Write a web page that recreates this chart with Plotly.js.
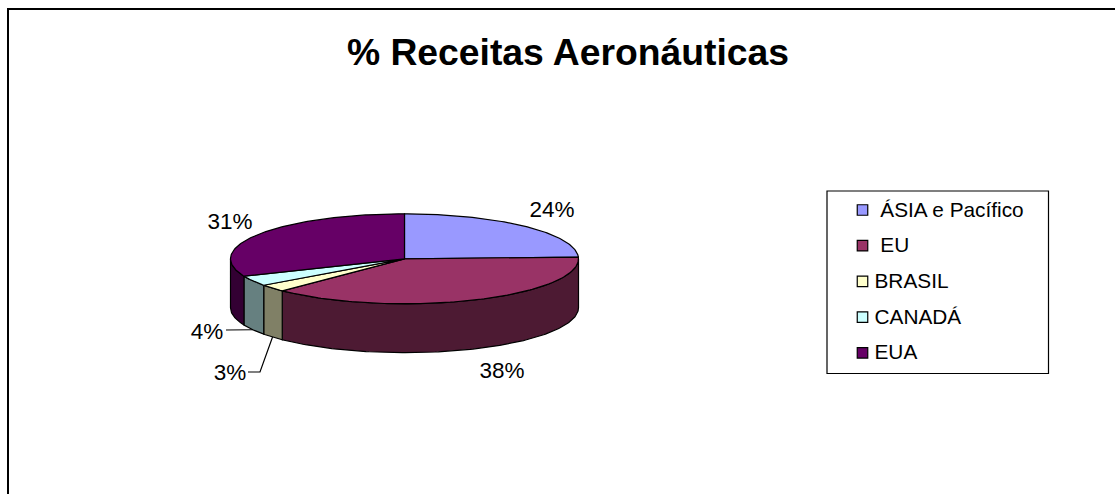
<!DOCTYPE html>
<html>
<head>
<meta charset="utf-8">
<script src="https://cdn.plot.ly/plotly-3.0.1.min.js"></script>
<style>html,body{margin:0;padding:0;background:#fff;overflow:hidden}#chart{width:1115px;height:494px}</style>
</head>
<body>
<div id="chart"></div>
<script>
// Data
const categories = ['ÁSIA e Pacífico', 'EU', 'BRASIL', 'CANADÁ', 'EUA'];
const legendLabels = ['\u00a0ÁSIA e Pacífico', '\u00a0EU', 'BRASIL', 'CANADÁ', 'EUA'];
const shares = [24.4, 38.0, 2.6, 3.7, 31.3];
const topColors = ['#9999FF', '#993366', '#FFFFCC', '#CCFFFF', '#660066'];
const sideColors = ['#4D4D80', '#4D1A33', '#808066', '#668080', '#330033'];

// Geometry of the drawing
const CX = 404.5, CY = 258.8, RX = 174, RY = 45, DEPTH = 48.9;
const FONT = 'Liberation Sans, Arial, sans-serif';
const rad = d => d * Math.PI / 180;
const px = d => CX + RX * Math.sin(rad(d));
const py = (d, dz) => CY - RY * Math.cos(rad(d)) + (dz || 0);
function arc(a, b, dz) {
  const xs = [], ys = [];
  const n = Math.max(2, Math.ceil(Math.abs(b - a)));
  for (let i = 0; i <= n; i++) {
    const t = a + (b - a) * i / n;
    xs.push(px(t)); ys.push(py(t, dz));
  }
  return [xs, ys];
}
const total = shares.reduce((s, v) => s + v, 0);
let acc = 0;
const spans = shares.map(v => { const a = acc / total * 360; acc += v; return [a, acc / total * 360]; });

const traces = [];
const outline = {color: '#000', width: 1.2};
// side walls (front half only)
spans.forEach(([a, b], i) => {
  const s = Math.max(a, 90), e = Math.min(b, 270);
  if (e <= s) return;
  const [tx, ty] = arc(s, e, 0);
  const [bx, by] = arc(e, s, DEPTH);
  traces.push({type: 'scatter', mode: 'lines', x: [...tx, ...bx, tx[0]], y: [...ty, ...by, ty[0]],
    fill: 'toself', fillcolor: sideColors[i], line: outline, hoverinfo: 'skip', name: categories[i] + ' lateral'});
});
// top sectors
spans.forEach(([a, b], i) => {
  const [tx, ty] = arc(a, b, 0);
  traces.push({type: 'scatter', mode: 'lines', x: [CX, ...tx, CX], y: [CY, ...ty, CY],
    fill: 'toself', fillcolor: topColors[i], line: outline, hoverinfo: 'text', text: categories[i], name: categories[i]});
});
// leader lines for the two small slices
const mid = i => (spans[i][0] + spans[i][1]) / 2;
traces.push({type: 'scatter', mode: 'lines', x: [226, 243, px(mid(3))], y: [330, 330, py(mid(3), DEPTH)],
  line: {color: '#000', width: 1.2}, hoverinfo: 'skip'});
traces.push({type: 'scatter', mode: 'lines', x: [248, 260, px(mid(2))], y: [372, 372, py(mid(2), DEPTH)],
  line: {color: '#000', width: 1.2}, hoverinfo: 'skip'});
// percentage labels
const labelX = [552, 502, 230, 207, 230];
const labelY = [211, 372, 374, 333, 223];
traces.push({type: 'scatter', mode: 'text', x: labelX, y: labelY,
  text: shares.map(v => Math.round(v / total * 100) + '%'), textposition: 'middle center',
  textfont: {family: FONT, size: 22.5, color: '#000'}, hoverinfo: 'skip'});
// legend
const LEG_X = 862.5, LEG_TEXT_X = 874.5, LEG_TOP = 210, LEG_STEP = 35.7;
const legY = categories.map((c, i) => LEG_TOP + i * LEG_STEP);
traces.push({type: 'scatter', mode: 'markers', x: categories.map(() => LEG_X), y: legY,
  marker: {symbol: 'square', size: 10.5, color: topColors, line: {color: '#000', width: 1.2}}, hoverinfo: 'skip'});
traces.push({type: 'scatter', mode: 'text', x: categories.map(() => LEG_TEXT_X), y: legY.map(v => v + 1.5),
  text: legendLabels, textposition: 'middle right',
  textfont: {family: FONT, size: 20.8, color: '#000'}, hoverinfo: 'skip'});

const frame = {type: 'line', xref: 'x', yref: 'y', line: {color: '#000', width: 2}};
const layout = {
  width: 1115, height: 494, margin: {l: 0, r: 0, t: 0, b: 0, pad: 0},
  paper_bgcolor: '#fff', plot_bgcolor: '#fff', showlegend: false,
  title: {text: '<b>% Receitas Aeronáuticas</b>', x: 568 / 1115, xanchor: 'center', y: 1 - 52 / 494, yanchor: 'middle',
    font: {family: FONT, size: 37.3, color: '#000'}},
  xaxis: {range: [0, 1115], visible: false, fixedrange: true},
  yaxis: {range: [494, 0], visible: false, fixedrange: true},
  shapes: [
    {...frame, x0: 8, x1: 8, y0: 9, y1: 494},
    {...frame, x0: 7, x1: 1115, y0: 9, y1: 9},
    {type: 'rect', xref: 'x', yref: 'y', x0: 827, x1: 1048.5, y0: 191, y1: 373.5, line: {color: '#000', width: 1.2}, fillcolor: 'rgba(0,0,0,0)'}
  ]
};
Plotly.newPlot('chart', traces, layout, {displayModeBar: false, responsive: false});
</script>
</body>
</html>
